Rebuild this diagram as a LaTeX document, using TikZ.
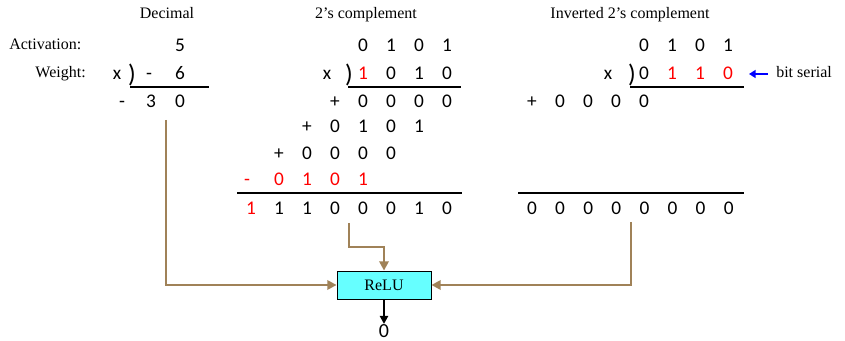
\documentclass[tikz,border=0pt]{standalone}
\usepackage{fontspec}
\setmainfont{Liberation Serif}
\newfontfamily\digitfont{Carlito}
\usetikzlibrary{arrows.meta}
\definecolor{wire}{RGB}{160,130,88}
\definecolor{reluFill}{RGB}{102,255,255}
\begin{document}
\begin{tikzpicture}[x=0.75pt,y=-0.75pt,
  dg/.style={font=\digitfont\fontsize{14.5pt}{16pt}\selectfont, inner sep=0pt, anchor=base},
  brk/.style={font=\digitfont\fontsize{19pt}{20pt}\selectfont, inner sep=0pt, anchor=base},
  lbl/.style={font=\fontsize{12pt}{14pt}\selectfont, inner sep=0pt, anchor=base},
  rule/.style={line width=1.9pt},
  conn/.style={draw=wire, line width=1.8pt, -{Triangle[length=7pt,width=7pt]}},
  neg/.style={text=red}]
\useasboundingbox (0,0) rectangle (845,341);

% column titles
\node[lbl] (tdec) at (167,19) {Decimal};
\node[lbl] (ttwo) at (366,19) {2’s complement};
\node[lbl] (tinv) at (630,19) {Inverted 2’s complement};
\node[lbl, anchor=base west] (lact) at (9,50) {Activation:};
\node[lbl, anchor=base east] (lwt) at (86,78) {Weight:};

% decimal product
\node[dg] (d5) at (180,52) {5};
\node[dg] (dx) at (117,80) {x};
\node[brk] (dp) at (132,83) {)};
\node[dg] (dm) at (149,80) {-};
\node[dg] (d6) at (180,80) {6};
\draw[rule] (130,87) -- (209,87);
\node[dg] (rm) at (122,108) {-};
\node[dg] (r3) at (151,108) {3};
\node[dg] (r0) at (180,108) {0};

% 2's complement product
\foreach \v [count=\i] in {0,1,0,1}
  \node[dg] (ta\i) at (335+28*\i,52) {\v};
\node[dg] (tx) at (327,80) {x};
\node[brk] (tp) at (349,83) {)};
\node[dg, neg] (tw1) at (363,80) {1};
\foreach \v [count=\i] in {0,1,0}
  \node[dg] (tw\i b) at (363+28*\i,80) {\v};
\draw[rule] (348,87) -- (461,87);
\node[dg] (p1s) at (335,108) {+};
\foreach \i in {1,...,4}
  \node[dg] (p1\i) at (335+28*\i,108) {0};
\node[dg] (p2s) at (307,133) {+};
\foreach \v [count=\i] in {0,1,0,1}
  \node[dg] (p2\i) at (307+28*\i,133) {\v};
\node[dg] (p3s) at (279,160) {+};
\foreach \i in {1,...,4}
  \node[dg] (p3\i) at (279+28*\i,160) {0};
\node[dg, neg] (p4s) at (247,186) {-};
\foreach \v [count=\i] in {0,1,0,1}
  \node[dg, neg] (p4\i) at (251+28*\i,186) {\v};
\draw[rule] (237,193) -- (462,193);
\node[dg, neg] (s1) at (251,215) {1};
\foreach \v [count=\i] in {1,1,0,0,0,1,0}
  \node[dg] (s\i b) at (251+28*\i,215) {\v};

% inverted 2's complement product
\foreach \v [count=\i] in {0,1,0,1}
  \node[dg] (ia\i) at (616+28*\i,52) {\v};
\node[dg] (ix) at (608,80) {x};
\node[brk] (ip) at (632,83) {)};
\node[dg] (iw1) at (644,80) {0};
\node[dg, neg] (iw2) at (672,80) {1};
\node[dg, neg] (iw3) at (700,80) {1};
\node[dg, neg] (iw4) at (728,80) {0};
\draw[rule] (630,87) -- (744,87);
\node[dg] (q1s) at (532,108) {+};
\foreach \i in {1,...,4}
  \node[dg] (q1\i) at (532+28*\i,108) {0};
\draw[rule] (518,193) -- (744,193);
\foreach \i in {0,...,7}
  \node[dg] (z\i) at (532+28.1*\i,215) {0};

% bit-serial marker
\node[lbl, anchor=base west] (bs) at (776,78) {bit serial};
\coordinate (bsa) at (768,74);
\coordinate (bsb) at (749,74);
\draw[blue, line width=1.5pt, -{Triangle[length=5pt,width=6pt]}] (bsa) -- (bsb);

% activation function
\node[draw=black, fill=reluFill, line width=0.6pt, minimum width=70.5pt, minimum height=21pt,
      inner sep=0pt, font=\fontsize{12pt}{14pt}\selectfont] (relu) at (384,285) {ReLU};
\node[dg, anchor=north, font=\digitfont\fontsize{15pt}{16pt}\selectfont] (out) at (384,324) {0};

\coordinate (cl) at (166,120);
\coordinate (cm) at (349,223);
\coordinate (cmb) at (349,247);
\coordinate (cr) at (631,222);
\draw[conn] (cl) |- (relu.west);
\draw[conn] (cm) -- (cmb) -| (relu.north);
\draw[conn] (cr) |- (relu.east);
\draw[line width=1.6pt, -{Triangle[length=6pt,width=6pt]}] (relu.south) -- (out.north);
\end{tikzpicture}
\end{document}
